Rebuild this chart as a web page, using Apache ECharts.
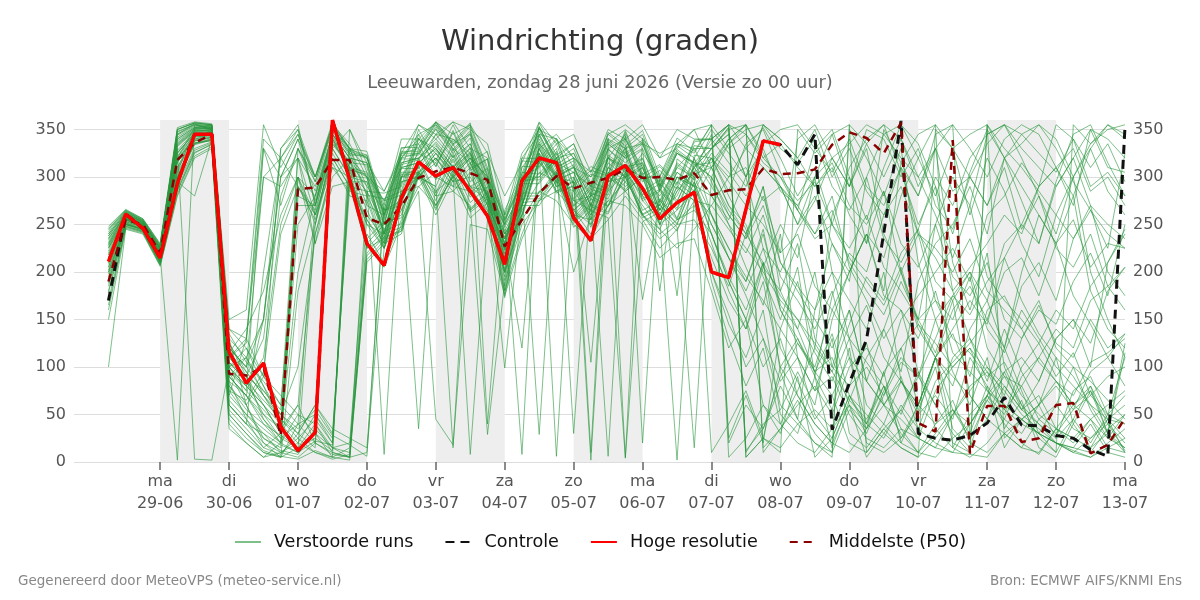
<!DOCTYPE html>
<html><head><meta charset="utf-8">
<script src="https://cdn.jsdelivr.net/npm/echarts@6/dist/echarts.min.js"></script>
<style>html,body{margin:0;padding:0;background:#fff}#c{width:1200px;height:600px}</style>
</head><body><div id="c"></div>
<script>
// time: hours since zo 28-06 00:00, 6-hourly from 06:00
const startHour = 6, stepHours = 6;
const dayTicks = [24,48,72,96,120,144,168,192,216,240,264,288,312,336,360];
const dayNames = ['ma','di','wo','do','vr','za','zo','ma','di','wo','do','vr','za','zo','ma'];
const dayDates = ['29-06','30-06','01-07','02-07','03-07','04-07','05-07','06-07','07-07','08-07','09-07','10-07','11-07','12-07','13-07'];
const shadedDays = [[24,48],[72,96],[120,144],[168,192],[216,240],[264,288],[312,336]];
const yTicks = [0,50,100,150,200,250,300,350];

const hres = [211,261,246,215,293,345,345,116,83,104, 37,12,31,360,297,230,207,278,316,301,
  310,285,259,208,296,320,315,257,233,301, 312,288,256,273,284,200,194,266,338,334];
const control = [170,261,246,215,293,345,345,116,83,104, 37,12,31,360,297,230,207,278,316,301,
  310,285,259,208,296,320,315,257,233,301, 312,288,256,273,284,200,194,266,338,334,
  313,345,34,83,129,241,359,30,25,23, 28,41,68,39,38,28,25,13,6,353];
const p50 = [190,255,250,220,318,336,345,93,91,100, 28,287,289,318,318,257,250,269,299,306,
  310,304,297,227,255,283,301,288,294,299, 308,299,300,297,304,281,286,287,309,303,
  304,308,334,347,341,325,357,41,32,339, 9,59,59,21,25,60,62,9,18,46];

// perturbed members: steps 0-11 (28-06 06:00 .. 01-07 00:00)
const membersEarly = [
[215,256,249,220,335,350,352,100,80,60,30,250],
[230,262,252,225,310,345,348,120,100,150,300,340],
[200,250,246,215,290,340,345,90,70,40,20,10],
[235,260,250,222,320,352,355,130,110,80,40,300],
[180,252,244,210,300,338,342,70,50,30,10,20],
[245,265,255,228,345,356,350,95,60,20,5,180],
[210,258,250,218,2,355,350,110,90,130,280,330],
[225,255,247,220,330,3,2,100,120,80,50,100],
[190,250,245,212,305,335,340,85,45,15,30,60],
[240,263,254,226,350,357,355,140,130,300,320,350],
[205,255,248,216,295,280,340,60,40,200,320,290],
[218,258,250,219,325,347,349,105,85,50,25,40],
[160,248,243,208,285,325,335,50,30,10,5,15],
[228,260,251,223,340,352,353,115,140,180,260,300],
[200,253,247,214,315,343,347,80,60,25,15,300],
[238,262,253,225,348,355,352,125,95,70,40,10],
[212,257,249,217,320,345,345,100,75,330,300,320],
[185,250,244,211,298,336,338,40,20,5,20,50],
[248,266,256,230,352,358,356,150,160,355,310,345],
[222,259,250,220,328,348,350,90,110,70,50,30],
[205,254,247,215,310,340,343,75,50,35,20,280],
[232,261,252,224,338,351,351,110,90,60,30,200],
[170,248,242,209,288,328,336,60,40,20,10,5],
[220,257,249,219,325,346,348,130,60,90,330,355],
[195,252,246,213,302,338,341,85,70,45,25,15],
[242,264,254,227,345,355,354,120,100,300,290,320],
[214,256,249,218,322,345,346,95,80,110,250,300],
[178,249,243,210,292,330,337,55,35,15,8,30],
[236,261,253,225,342,353,352,110,125,330,270,330],
[208,255,248,216,318,342,344,90,70,50,35,60],
[225,258,250,221,333,349,350,105,90,75,55,320],
[198,251,245,212,300,336,340,65,45,25,12,8],
[244,264,255,228,347,356,354,135,105,85,60,40],
[215,256,249,218,305,350,348,100,80,60,40,20],
[188,250,244,211,296,334,339,70,130,340,320,345],
[230,260,251,223,336,351,351,115,95,70,45,25],
[150,246,241,207,282,322,332,45,25,10,5,40],
[226,259,250,221,332,348,349,100,110,150,300,340],
[210,255,248,217,316,342,344,80,55,40,28,15],
[240,263,254,226,350,357,355,125,90,45,20,330],
[202,253,247,214,308,339,342,75,65,95,240,290],
[234,261,252,224,340,352,352,105,85,65,45,30],
[100,245,240,206,280,320,330,35,20,5,10,25],
[246,265,256,229,350,357,355,140,120,90,70,50],
[218,257,249,219,326,346,347,95,75,55,35,290],
[192,251,245,212,298,335,339,60,40,30,18,10],
[228,259,251,222,334,349,350,110,130,90,60,270],
[165,247,242,208,286,326,334,50,30,12,6,3],
[238,262,253,226,344,354,353,120,100,75,50,35],
[212,256,248,217,318,343,345,90,70,150,330,350]
];
// steps 12-34 (01-07 06:00 .. 06-07 18:00)
const membersMid = [
[280,345,310,265,230,300,335,300,325,290,275,235,270,330,300,295,250,310,330,280,270,305,290],
[300,355,330,290,265,275,340,325,300,320,300,210,300,300,325,270,290,285,340,310,265,280,320],
[30,355,335,300,285,320,345,355,330,290,260,200,260,320,300,310,280,330,310,300,300,255,270],
[250,320,290,255,230,270,300,290,15,315,280,235,265,295,320,260,255,275,295,270,245,285,310],
[10,5,15,240,210,255,290,270,300,8,255,180,240,285,300,275,265,320,300,260,240,255,265],
[250,330,350,305,275,310,355,345,358,330,320,250,320,345,340,310,300,345,355,340,320,330,350],
[300,350,325,280,245,265,300,320,295,300,270,200,300,310,330,265,280,295,300,325,300,275,310],
[240,300,320,270,260,300,310,345,340,320,300,240,270,330,345,320,300,320,345,20,300,335,330],
[20,10,5,230,205,250,285,45,18,250,245,175,235,275,285,265,240,270,300,260,235,250,255],
[270,345,320,300,275,320,340,330,305,290,300,230,310,335,315,305,290,330,340,300,280,310,330],
[260,310,300,255,225,285,300,290,330,315,280,210,270,315,295,200,260,285,305,280,250,265,285],
[50,20,300,250,240,275,305,285,300,290,285,215,290,325,300,255,235,270,285,260,245,225,245],
[250,335,315,290,8,300,325,315,340,325,295,230,280,305,295,285,260,295,310,275,255,285,305],
[280,340,305,285,250,280,35,300,290,285,265,200,255,285,275,250,235,255,280,255,225,245,275],
[230,290,295,250,225,265,305,280,285,270,29,190,250,275,295,265,250,275,270,250,215,230,235],
[30,5,350,315,285,325,355,340,358,350,335,260,325,350,340,320,305,335,350,335,325,335,350],
[230,315,280,275,225,300,300,320,295,315,270,230,295,300,320,275,280,290,330,275,285,265,310],
[30,15,20,260,235,295,300,325,305,320,280,250,8,335,300,310,270,320,305,315,265,300,290],
[300,358,330,320,270,340,340,358,345,355,325,280,315,358,335,345,305,350,340,355,320,350,340],
[60,30,290,225,235,245,305,270,300,265,285,195,285,29,305,260,280,270,310,265,275,255,300],
[270,335,310,305,250,315,320,340,320,335,290,250,285,345,310,320,10,335,320,330,285,325,310],
[280,345,320,315,260,325,330,355,335,345,300,255,295,348,320,325,290,340,330,335,290,325,315],
[20,350,330,310,250,315,320,335,310,325,280,240,270,325,6,300,260,310,300,310,260,300,290],
[270,330,300,295,240,310,315,330,310,330,280,235,280,330,295,305,265,320,310,315,270,310,300],
[40,10,5,10,225,285,290,305,285,305,260,225,260,320,285,295,2,300,285,300,250,290,275],
[290,350,325,320,265,330,335,358,335,355,310,260,300,352,320,335,290,345,330,345,295,335,325],
[260,320,290,285,230,300,305,320,300,320,270,230,120,325,290,295,255,310,295,310,260,300,285],
[15,340,315,300,240,310,315,330,305,325,275,99,270,330,290,300,255,305,290,305,255,295,280],
[285,345,320,315,255,320,325,350,325,345,295,250,285,345,310,320,280,335,320,335,285,325,315],
[240,310,285,280,225,295,300,315,290,310,265,225,260,320,285,290,105,305,285,300,250,290,275],
[260,340,310,300,243,313,318,337,315,335,285,243,280,340,303,313,270,323,310,320,275,315,300],
[35,15,10,220,240,247,307,270,307,267,283,185,280,280,305,255,273,6,307,260,270,250,295],
[270,348,323,323,261,327,327,357,333,353,307,257,297,353,317,330,287,341,5,341,291,333,320],
[50,25,310,230,250,260,320,283,323,283,300,203,297,297,321,269,287,281,327,281,293,273,319],
[295,352,327,321,257,323,323,351,327,347,301,253,293,351,313,325,283,337,323,337,287,327,313],
[45,20,330,281,277,285,345,311,349,309,319,215,311,311,335,285,303,297,343,295,307,287,333],
[20,8,5,210,230,240,300,260,297,257,273,173,270,270,297,247,265,257,4,253,263,243,287],
[275,338,307,303,240,309,309,333,311,331,283,240,277,337,301,311,269,321,307,319,273,313,297],
[25,12,320,235,253,257,317,280,319,279,297,199,293,293,317,265,283,277,323,277,287,267,313],
[295,355,330,327,265,331,331,358,337,357,40,265,303,357,323,335,293,347,333,349,301,341,327],
[255,325,295,295,233,303,303,325,303,323,275,223,257,317,283,291,247,301,287,303,253,2,279],
[60,35,25,15,265,270,330,297,335,295,309,211,305,303,327,277,295,287,333,285,297,175,323],
[10,3,8,217,237,243,303,265,303,263,277,177,273,275,301,251,269,261,303,257,267,247,15],
[40,15,5,285,283,290,350,317,355,315,327,223,320,319,341,293,311,303,349,303,313,293,339],
[265,330,301,299,237,305,305,328,307,327,277,237,273,333,297,305,263,315,300,313,265,305,291],
[22,18,305,225,243,251,311,275,313,273,290,191,283,283,307,257,277,269,311,171,277,257,303],
[270,342,315,313,251,319,319,345,321,341,293,247,283,343,307,317,275,329,315,329,180,319,305],
[12,5,2,213,233,243,303,267,303,265,280,181,277,277,303,253,271,263,305,261,271,251,295],
[55,28,18,6,275,281,341,311,347,307,319,219,317,315,339,291,307,301,347,299,311,291,337],
[300,354,329,323,259,325,325,353,329,349,303,255,295,353,315,30,285,339,325,339,289,329,315]
];
// steps 35-59 (07-07 00:00 .. 13-07 00:00)
const membersLate = [
[320,285,335,350,305,265,330,350,300,255,310,355,335,290,240,305,350,320,275,230,295,345,355,315,280],
[260,215,175,130,85,110,50,25,70,40,95,20,60,110,35,15,70,120,75,30,60,100,55,25,50],
[215,170,140,205,250,215,300,345,290,335,355,305,250,290,180,130,85,140,95,60,110,40,15,45,10],
[330,352,12,35,80,45,160,230,190,300,345,355,320,280,330,260,320,285,230,195,260,300,335,355,340],
[240,195,160,210,95,45,20,5,350,320,280,330,210,150,95,60,110,35,65,15,5,40,75,30,115],
[310,270,250,205,180,230,130,100,160,85,140,190,150,250,300,270,345,355,320,280,240,300,200,150,110],
[340,355,5,25,10,350,325,345,355,10,35,15,5,350,330,345,355,25,45,30,10,355,335,350,355],
[295,250,205,165,240,110,75,130,30,15,40,85,60,110,135,90,160,175,140,105,85,60,45,25,15],
[225,185,240,280,220,340,355,320,290,330,240,200,150,115,170,70,45,95,55,85,130,150,100,210,245],
[330,352,10,40,55,95,60,150,200,240,180,315,345,355,15,50,70,40,20,8,35,60,80,45,25],
[200,145,110,160,50,30,90,15,65,110,140,95,190,230,250,290,240,320,345,355,330,295,265,240,225],
[270,300,330,352,320,280,310,250,310,340,355,340,300,260,215,270,195,170,150,125,90,115,70,50,40],
[320,280,245,195,150,205,90,55,120,20,10,25,50,70,45,110,80,55,40,30,20,10,25,45,60],
[310,340,355,325,290,250,300,200,170,140,200,85,55,100,20,10,355,320,290,260,230,280,180,140,120],
[180,120,150,60,30,90,5,25,70,35,95,120,60,110,55,30,80,15,45,60,25,75,90,50,110],
[355,25,70,20,140,190,120,260,300,230,350,315,280,330,210,160,220,100,60,25,10,45,80,30,125],
[280,255,300,225,200,245,275,320,290,350,340,300,330,270,245,300,270,320,335,355,340,300,330,285,260],
[240,190,150,210,120,85,45,70,20,10,35,55,90,60,110,130,100,80,55,70,35,25,15,30,10],
[340,315,290,335,350,355,330,305,340,290,270,310,240,215,180,205,230,260,240,290,310,280,330,355,345],
[260,225,190,240,165,140,95,110,60,40,80,25,60,110,80,140,170,120,200,260,230,175,145,110,80],
[330,350,355,10,35,65,30,10,355,335,300,340,290,330,355,25,45,80,55,40,20,10,5,20,35],
[300,260,235,290,180,140,200,100,80,125,60,45,25,15,50,75,100,70,130,160,145,190,220,175,250],
[250,215,190,245,160,125,95,135,70,50,30,15,5,25,50,80,95,60,45,30,20,15,10,35,50],
[330,345,300,355,340,320,290,310,260,230,285,200,240,170,150,195,120,90,60,40,25,45,20,50,70],
[200,155,100,130,60,40,20,10,55,35,70,105,90,130,175,155,190,215,170,135,110,90,60,30,15],
[355,5,25,60,40,75,120,95,145,195,170,220,245,300,270,320,345,355,330,310,290,320,270,250,235],
[320,300,310,275,290,270,300,320,335,355,345,320,300,330,285,300,335,355,345,325,305,340,290,305,280],
[230,180,140,190,100,70,40,20,60,5,30,55,25,75,100,120,95,75,50,35,20,12,5,15,25],
[335,355,330,310,290,250,280,230,200,240,175,160,130,180,115,95,75,55,80,45,30,55,70,90,100],
[270,245,220,260,195,170,140,180,110,85,60,90,35,20,10,40,65,45,90,110,140,120,170,185,205],
[10,40,75,25,100,130,90,175,220,200,260,310,280,345,355,330,300,340,355,345,310,330,285,300,270],
[250,215,180,225,160,130,95,70,110,40,25,60,35,85,105,125,150,120,185,210,170,235,265,225,325],
[350,325,300,330,285,270,240,265,210,180,155,200,140,110,90,70,45,30,15,10,35,25,45,60,75],
[290,260,235,270,210,185,160,200,130,105,80,50,95,35,15,5,20,45,30,60,80,55,95,110,135],
[300,265,240,210,175,150,115,85,130,60,40,20,10,30,55,40,70,95,110,85,130,150,125,180,205],
[330,345,300,355,340,320,350,300,330,285,260,290,240,225,200,235,180,160,140,170,120,100,85,65,45],
[190,130,80,120,40,20,10,35,60,30,75,110,90,150,175,200,170,230,250,290,310,270,350,340,320],
[325,305,280,310,290,265,235,250,215,190,165,205,145,125,100,120,75,60,45,30,20,15,40,10,5],
[315,340,355,15,35,60,80,50,100,120,90,150,175,200,225,190,260,280,315,290,355,340,310,335,295],
[355,330,345,315,300,275,295,250,225,260,205,180,150,170,130,115,90,105,70,50,35,20,45,15,10],
[260,225,195,170,140,110,75,90,50,25,15,35,10,40,55,25,65,90,80,110,85,60,75,40,20],
[320,295,270,250,220,240,185,160,130,165,110,85,60,40,65,20,10,30,45,60,85,70,105,115,130],
[300,335,355,320,300,265,240,280,205,170,130,160,95,60,30,10,355,330,310,285,260,235,270,200,175],
[340,355,5,25,15,40,55,35,80,100,70,120,145,110,160,185,150,200,215,175,230,255,205,230,225],
[280,250,225,200,170,150,125,95,65,45,80,35,25,15,10,8,5,30,15,45,60,35,25,40,12],
[310,335,350,355,330,315,340,290,265,300,235,210,245,190,170,200,140,115,160,130,100,80,60,45,40],
[345,20,60,35,90,125,100,160,200,240,215,280,320,355,330,300,270,310,245,280,225,205,240,185,160],
[240,190,150,100,130,70,40,20,10,35,60,85,50,110,140,170,145,215,250,230,290,320,350,310,305],
[340,355,345,320,335,310,290,315,270,250,285,230,205,250,195,175,210,150,130,165,125,110,150,120,135],
[310,270,240,290,210,180,150,120,160,85,60,30,10,5,25,40,70,50,100,125,160,140,185,210,240]
];
const members = membersEarly.map((a, k) => a.concat(membersMid[k], membersLate[k]));

function toPoints(arr) { return arr.map((v, i) => [startHour + stepHours * i, v]); }

const FONT = 'DejaVu Sans';
const ENS = 'rgba(40,150,60,0.6)';
const series = [];
members.forEach((m) => {
  series.push({
    name: 'Verstoorde runs', type: 'line', data: toPoints(m), symbol: 'none', silent: true,
    lineStyle: { color: ENS, width: 1 }, itemStyle: { color: ENS }, z: 2, animation: false
  });
});
series.push({
  name: 'Controle', type: 'line', data: toPoints(control), symbol: 'none', silent: true,
  lineStyle: { color: '#111111', width: 3, type: [9, 6] }, itemStyle: { color: '#111111' }, z: 3, animation: false
});
series.push({
  name: 'Middelste (P50)', type: 'line', data: toPoints(p50), symbol: 'none', silent: true,
  lineStyle: { color: '#8b0000', width: 2.5, type: [8, 6] }, itemStyle: { color: '#8b0000' }, z: 4, animation: false
});
series.push({
  name: 'Hoge resolutie', type: 'line', data: toPoints(hres), symbol: 'none', silent: true,
  lineStyle: { color: '#ff0000', width: 3.5 }, itemStyle: { color: '#ff0000' }, z: 5, animation: false,
  markArea: {
    silent: true, z: 1,
    itemStyle: { color: '#eeeeee' },
    data: shadedDays.map(d => [{ xAxis: d[0] }, { xAxis: d[1] }])
  }
});

const chart = echarts.init(document.getElementById('c'), null, { renderer: 'canvas' });
chart.setOption({
  backgroundColor: '#ffffff',
  animation: false,
  textStyle: { fontFamily: FONT },
  title: [
    { text: 'Windrichting (graden)', subtext: 'Leeuwarden, zondag 28 juni 2026 (Versie zo 00 uur)',
      left: 'center', top: 23, itemGap: 17,
      textStyle: { fontSize: 29, fontWeight: 'normal', color: '#333333', fontFamily: FONT },
      subtextStyle: { fontSize: 17.8, color: '#666666', fontFamily: FONT } },
    { text: 'Gegenereerd door MeteoVPS (meteo-service.nl)', left: 13, top: 569,
      textStyle: { fontSize: 13.5, fontWeight: 'normal', color: '#888888', fontFamily: FONT } },
    { text: 'Bron: ECMWF AIFS/KNMI Ens', right: 13, top: 569,
      textStyle: { fontSize: 13.5, fontWeight: 'normal', color: '#888888', fontFamily: FONT } }
  ],
  legend: {
    data: ['Verstoorde runs', 'Controle', 'Hoge resolutie', 'Middelste (P50)'],
    left: 'center', top: 528, itemWidth: 26, itemHeight: 14, itemGap: 31,
    itemStyle: { opacity: 0 },
    textStyle: { fontSize: 17.6, color: '#111111', fontFamily: FONT, padding: [0, 0, 0, 8] }
  },
  grid: { left: 74, right: 75, top: 120, bottom: 138, containLabel: false },
  xAxis: {
    type: 'value', min: -6, max: 360,
    axisLine: { show: false },
    axisTick: { show: true, customValues: dayTicks, length: 8, lineStyle: { color: '#666666', width: 1.5 } },
    axisLabel: {
      customValues: dayTicks, color: '#555555', fontSize: 16, lineHeight: 22, margin: 9, fontFamily: FONT,
      formatter: (v) => { const k = dayTicks.indexOf(v); return k < 0 ? '' : dayNames[k] + '\n' + dayDates[k]; }
    },
    splitLine: { show: false }
  },
  yAxis: [
    { type: 'value', min: 0, max: 360, position: 'left',
      axisLine: { show: false }, axisTick: { show: false, customValues: yTicks },
      axisLabel: { customValues: yTicks, color: '#555555', fontSize: 16, margin: 8, fontFamily: FONT },
      splitLine: { show: true, lineStyle: { color: '#dddddd', width: 1 } } },
    { type: 'value', min: 0, max: 360, position: 'right',
      axisLine: { show: false }, axisTick: { show: false, customValues: yTicks },
      axisLabel: { customValues: yTicks, color: '#555555', fontSize: 16, margin: 8, fontFamily: FONT },
      splitLine: { show: false } }
  ],
  series: series
});
</script>
</body></html>
